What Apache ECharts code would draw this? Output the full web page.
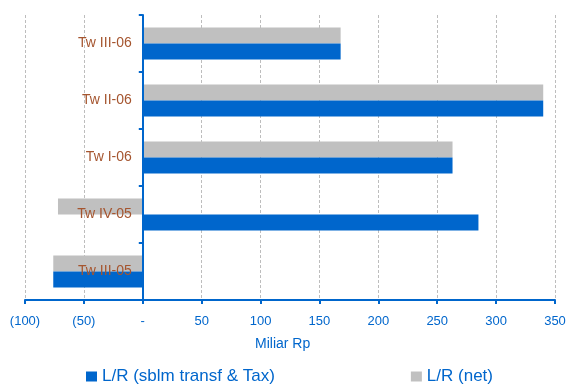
<!DOCTYPE html>
<html>
<head>
<meta charset="utf-8">
<script src="https://cdn.jsdelivr.net/npm/echarts@6/dist/echarts.min.js"></script>
<style>
  html, body { margin: 0; padding: 0; background: #ffffff; }
  #chart { width: 566px; height: 385px; }
</style>
</head>
<body>
<div id="chart"></div>
<script>
// Quarterly L/R figures, bottom category first
const categories = ['Tw III-05', 'Tw IV-05', 'Tw I-06', 'Tw II-06', 'Tw III-06'];
const seriesNames = ['L/R (sblm transf & Tax)', 'L/R (net)'];
const beforeTransferTax = [-76, 285, 263, 340, 168];
const netValues = [-76, -72, 263, 340, 168];
const axisName = 'Miliar Rp';

const BLUE = '#0066CC';
const GRAY = '#C0C0C0';
const BROWN = '#A5552F';
const FONT = '"Liberation Sans", Arial, sans-serif';

const X_MIN = -100;
const X_MAX = 350;
const GRID_LEFT = 25;
const GRID_RIGHT = 11;
const CHART_W = 566;

const chart = echarts.init(document.getElementById('chart'), null, { renderer: 'canvas' });

function fmtTick(v) {
  if (v === 0) return '-';
  if (v < 0) return '(' + Math.abs(v) + ')';
  return String(v);
}

// the category axis sits at x = 0, so shift it right from the grid edge by that distance
const plotW = CHART_W - GRID_LEFT - GRID_RIGHT;
const zeroShift = plotW * (0 - X_MIN) / (X_MAX - X_MIN);

chart.setOption({
  animation: false,
  backgroundColor: '#ffffff',
  textStyle: { fontFamily: FONT },
  grid: { left: GRID_LEFT, right: GRID_RIGHT, top: 15, bottom: 85, containLabel: false, outerBoundsMode: 'none' },
  title: {
    text: axisName,
    left: 255,
    top: 337,
    padding: 0,
    textStyle: { color: BLUE, fontSize: 14, fontWeight: 'normal', fontFamily: FONT }
  },
  legend: {
    left: 86,
    top: 368,
    padding: 0,
    itemGap: 136,
    itemWidth: 11,
    itemHeight: 10,
    icon: 'rect',
    data: seriesNames,
    textStyle: { color: BLUE, fontSize: 17, fontFamily: FONT }
  },
  xAxis: {
    type: 'value',
    min: X_MIN,
    max: X_MAX,
    interval: 50,
    axisLine: { show: true, lineStyle: { color: BLUE, width: 2 } },
    axisTick: { show: true, length: 4, lineStyle: { color: BLUE, width: 2 } },
    axisLabel: { color: BLUE, fontSize: 13, margin: 15, formatter: fmtTick, fontFamily: FONT },
    splitLine: { show: true, lineStyle: { color: '#BDBDBD', type: [3, 2], width: 1 } }
  },
  yAxis: {
    type: 'category',
    data: categories,
    z: 10,
    offset: -zeroShift,
    axisLine: { show: true, onZero: false, lineStyle: { color: BLUE, width: 2 } },
    axisTick: { show: true, length: 4, lineStyle: { color: BLUE, width: 2 } },
    axisLabel: { color: BROWN, fontSize: 14, margin: 11, padding: [3, 0, 0, 0], fontFamily: FONT },
    splitLine: { show: false }
  },
  // net drawn first so it sits above the pre-tax bar in each band
  series: [
    {
      name: seriesNames[1],
      type: 'bar',
      data: netValues,
      barWidth: 16,
      barGap: '0%',
      itemStyle: { color: GRAY }
    },
    {
      name: seriesNames[0],
      type: 'bar',
      data: beforeTransferTax,
      barWidth: 16,
      barGap: '0%',
      itemStyle: { color: BLUE }
    }
  ]
});
</script>
</body>
</html>
